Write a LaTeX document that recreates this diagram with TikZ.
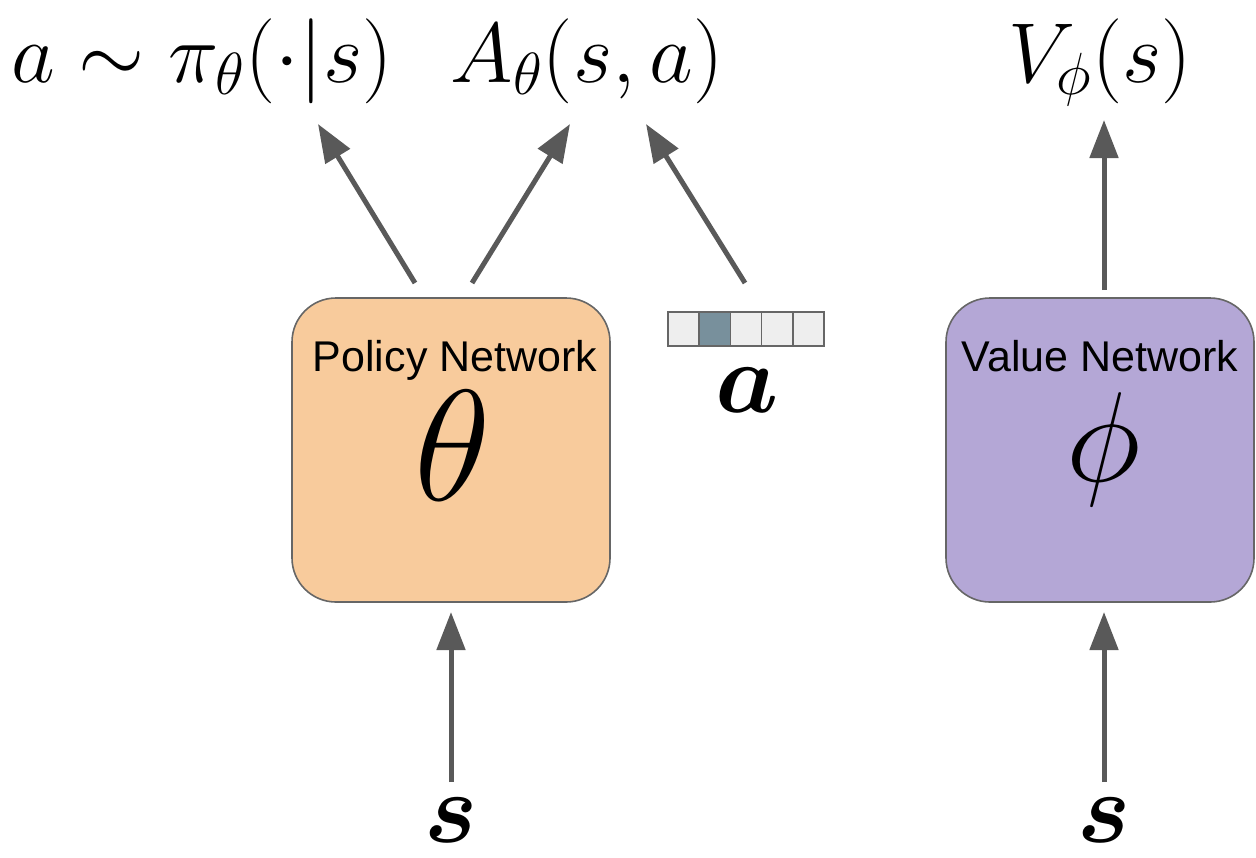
\RequirePackage{fix-cm}
\documentclass[tikz,border=0pt]{standalone}
\usepackage{amsmath,bm}
\usepackage{fontspec}
\newfontfamily\labelfont{Liberation Sans}
\usetikzlibrary{arrows.meta}
\definecolor{arrgray}{HTML}{595959}
\definecolor{boxborder}{HTML}{666666}
\definecolor{polfill}{HTML}{F8CB9C}
\definecolor{valfill}{HTML}{B4A7D6}
\definecolor{cellfill}{HTML}{EEEEEE}
\definecolor{cellsel}{HTML}{78909C}
\tikzset{
  arr/.style={draw=arrgray, line width=2.5pt, -{Triangle[length=19pt,width=14pt]}},
  netbox/.style={draw=boxborder, line width=0.8pt, rounded corners=22pt, minimum height=152pt, inner sep=0pt},
  cell/.style={draw=boxborder, line width=0.8pt, fill=cellfill, minimum width=15.6pt, minimum height=17pt, inner sep=0pt},
  toplab/.style={anchor=base, inner sep=0pt, font=\fontsize{42.5}{48}\selectfont},
  netlab/.style={anchor=base, inner sep=0pt, font=\labelfont\fontsize{21.5}{25}\selectfont},
  thetalab/.style={anchor=base, inner sep=0pt, font=\fontsize{79}{84}\selectfont},
  philab/.style={anchor=base, inner sep=0pt, font=\fontsize{64}{70}\selectfont},
  veclab/.style={anchor=base, inner sep=0pt, font=\fontsize{50}{56}\selectfont},
}
\begin{document}
\begin{tikzpicture}[x=0.5pt,y=-0.5pt]
\useasboundingbox (0,0) rectangle (1256,857);
% boxes
\node[netbox, fill=polfill, minimum width=159pt] (pol) at (451,450) {};
\node[netbox, fill=valfill, minimum width=154pt] (val) at (1100,450) {};
\node[netlab] (poltxt) at (455,371) {Policy Network};
\node[netlab] (valtxt) at (1100,371) {Value Network};
\node[thetalab] (theta) at (453,500) {$\theta$};
\node[philab] (phi) at (1104,481) {$\phi$};
% action vector
\foreach \i in {0,...,4} {
  \node[cell] (c\i) at ({683.6+31.2*\i},329) {};
}
\node[cell, fill=cellsel] at (c1) {};
\node[veclab] (avec) at (747,412) {$\bm{a}$};
% top labels
\node[toplab] (pi) at (202,82) {$a\sim\pi_\theta(\cdot|s)$};
\node[toplab] (adv) at (587,82) {$A_\theta(s,a)$};
\node[toplab] (v) at (1100,82) {$V_\phi(s)$};
% bottom labels
\node[veclab] (s1) at (451,842) {$\bm{s}$};
\node[veclab] (s2) at (1104,842) {$\bm{s}$};
% coordinates
\coordinate (p1s) at (415,283); \coordinate (p1e) at (318,124);
\coordinate (p2s) at (472,283); \coordinate (p2e) at (570,124);
\coordinate (p3s) at (745,283); \coordinate (p3e) at (646,124);
\coordinate (v1s) at (1104,290); \coordinate (v1e) at (1104,120);
\coordinate (b1s) at (451,782); \coordinate (b1e) at (451,612);
\coordinate (b2s) at (1104,782); \coordinate (b2e) at (1104,612);
\draw[arr] (p1s) -- (p1e);
\draw[arr] (p2s) -- (p2e);
\draw[arr] (p3s) -- (p3e);
\draw[arr] (v1s) -- (v1e);
\draw[arr] (b1s) -- (b1e);
\draw[arr] (b2s) -- (b2e);
\end{tikzpicture}
\end{document}
